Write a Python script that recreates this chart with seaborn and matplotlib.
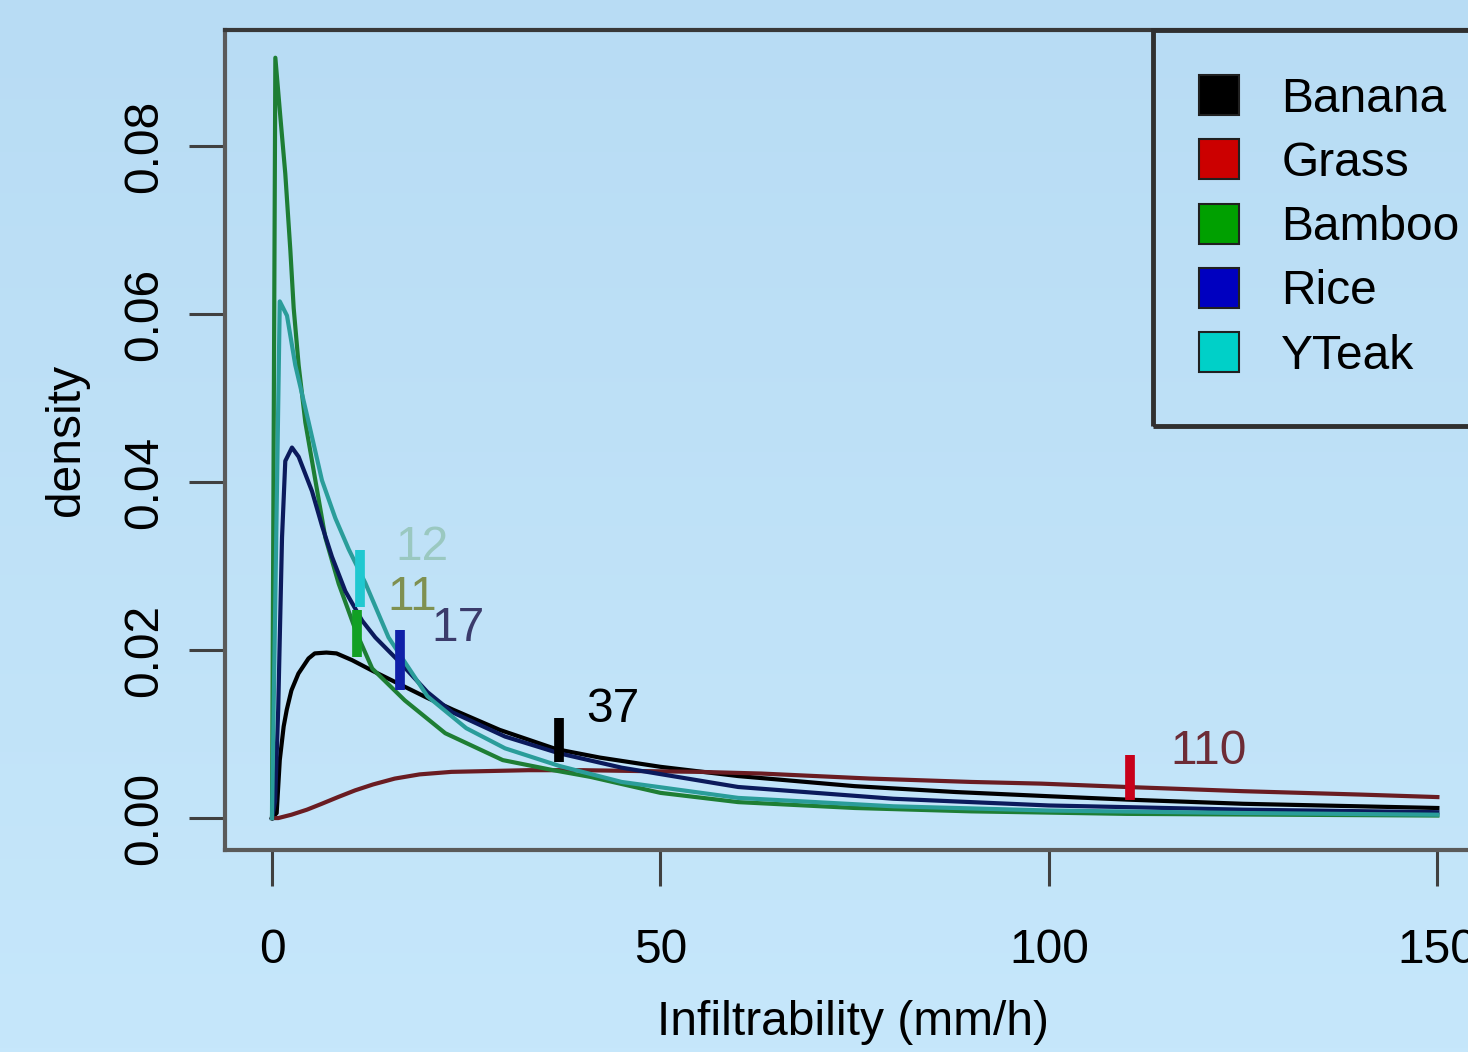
import numpy as np
import pandas as pd
import seaborn as sns
from matplotlib import pyplot as plt
from matplotlib.colors import LinearSegmentedColormap
from matplotlib.lines import Line2D

# fitted densities
crops = ['Banana', 'Grass', 'Bamboo', 'Rice', 'YTeak']

banana_x = [0, 0.6, 1.0, 1.5, 1.9, 2.5, 3.4, 4.7, 5.5, 7.0, 8.3, 10.3, 13.0, 16.5, 20.0, 23.3,
            29.3, 36.6, 42.2, 50, 60, 75, 88, 100, 110, 125, 150]
banana_y = [0, 0.0006, 0.0069, 0.0109, 0.0129, 0.0152, 0.0172, 0.0190, 0.0196, 0.0197, 0.0196,
            0.0188, 0.0175, 0.0159, 0.0143, 0.0129, 0.0105, 0.0082, 0.0072, 0.0061, 0.0050,
            0.0038, 0.0031, 0.0026, 0.0022, 0.0017, 0.0012]

grass_x = [0, 0.8, 2.5, 4.5, 6.4, 8.5, 10.7, 13, 15.8, 19, 23.1, 28, 33, 40, 47, 55, 63, 77,
           90, 99, 110, 125, 140, 150]
grass_y = [0, 0.0, 0.0004, 0.0010, 0.0017, 0.0025, 0.0033, 0.0040, 0.0047, 0.0052, 0.0055,
           0.0056, 0.0057, 0.0057, 0.0056, 0.0055, 0.0053, 0.0047, 0.0043, 0.0041, 0.0037,
           0.0032, 0.0028, 0.0025]

bamboo_x = [0, 0.43, 1.07, 1.71, 2.36, 2.79, 3.43, 4.29, 5.58, 6.86, 8.58, 10.9, 12.9, 17.1,
            22.3, 29.7, 36.2, 41, 50, 60, 75, 90, 110, 130, 150]
bamboo_y = [0, 0.0905, 0.0835, 0.0767, 0.0676, 0.0607, 0.0539, 0.0471, 0.0402, 0.0334, 0.0279,
            0.0220, 0.0178, 0.0140, 0.0101, 0.0069, 0.0057, 0.0049, 0.0030, 0.0019, 0.0012,
            0.0008, 0.0005, 0.0004, 0.0003]

rice_x = [0, 0.4, 0.8, 1.07, 1.29, 1.71, 2.57, 3.43, 5.15, 6.43, 7.72, 9.44, 11.6, 13.3, 16.5,
          20, 23.2, 30, 37, 45, 60, 80, 100, 125, 150]
rice_y = [0, 0.002, 0.013, 0.0243, 0.0334, 0.0425, 0.0441, 0.0430, 0.0389, 0.0348, 0.0311,
          0.0270, 0.0235, 0.0215, 0.0185, 0.0150, 0.0126, 0.0097, 0.0077, 0.0060, 0.0037,
          0.0023, 0.0015, 0.0010, 0.0007]

yteak_x = [0, 1.0, 1.93, 3.0, 4.72, 6.43, 8.15, 9.87, 12, 15, 20, 25, 30, 37, 45, 60, 80, 100,
           125, 150]
yteak_y = [0, 0.0615, 0.0598, 0.0539, 0.0471, 0.0402, 0.0357, 0.0320, 0.0280, 0.0215, 0.0145,
           0.0107, 0.0083, 0.0062, 0.0043, 0.0024, 0.0014, 0.0009, 0.0006, 0.0004]

# mean markers (x, vertical extent) and labels
mean_x = [37, 110.4, 10.9, 16.5, 11.3]
mark_lo = [0.0067, 0.0021, 0.0192, 0.0152, 0.0251]
mark_hi = [0.0119, 0.0075, 0.0248, 0.0224, 0.0319]
mean_labels = ['37', '110', '11', '17', '12']
label_x = [43.9, 120.5, 18.0, 23.9, 19.3]
label_y = [0.0129, 0.0079, 0.0262, 0.0226, 0.0322]

line_colors = ['#000000', '#6a1c22', '#1e7e34', '#0b1a5c', '#2a9d9a']
mark_colors = ['#000000', '#c8001a', '#12a024', '#1020a8', '#20c8d0']
text_colors = ['#000000', '#6d2c36', '#7f9050', '#3b3b6b', '#9ac8c0']
legend_colors = ['#000000', '#cc0000', '#00a000', '#0000c0', '#00d0c8']

xs = [banana_x, grass_x, bamboo_x, rice_x, yteak_x]
ys = [banana_y, grass_y, bamboo_y, rice_y, yteak_y]
df = pd.concat([pd.DataFrame({'x': x, 'density': y, 'crop': c}) for x, y, c in zip(xs, ys, crops)])

fs = 34.5
fig = plt.figure(figsize=(14.68, 10.52), dpi=100)
plt.rcParams['font.family'] = ['Liberation Sans', 'DejaVu Sans']

# light blue gradient background
bg = fig.add_axes([0, 0, 1, 1], zorder=-10)
grad = LinearSegmentedColormap.from_list('bg', ['#b8dcf4', '#c6e7fb'])
bg.imshow(np.linspace(0, 1, 256)[:, None], cmap=grad, aspect='auto', extent=[0, 1, 0, 1])
bg.axis('off')

ax = fig.add_axes([225 / 1468, 202 / 1052, 1259 / 1468, 820 / 1052])
ax.set_facecolor('none')

sns.lineplot(data=df, x='x', y='density', hue='crop', hue_order=crops,
             palette=dict(zip(crops, line_colors)), linewidth=3.0, legend=False,
             sort=False, estimator=None, ax=ax)

ax.vlines(mean_x, mark_lo, mark_hi, colors=mark_colors, linewidth=7, zorder=5)
for lx, ly, t, c in zip(label_x, label_y, mean_labels, text_colors):
    ax.text(lx, ly, t, color=c, fontsize=fs, ha='center', va='center')

ax.set_xlim(-6.05, 156)
ax.set_ylim(-0.0038, 0.0938)
ax.set_xticks([0, 50, 100, 150])
ax.set_xticklabels(['0', '50', '100', '150'])
ax.set_yticks([0, 0.02, 0.04, 0.06, 0.08])
ax.set_yticklabels(['0.00', '0.02', '0.04', '0.06', '0.08'])
ax.tick_params(axis='both', direction='out', length=26, width=2.2, color='#404040', labelsize=fs)
ax.tick_params(axis='x', pad=30)
ax.tick_params(axis='y', pad=16, labelrotation=90)
for lab in ax.get_yticklabels():
    lab.set_va('center')
for name, sp in ax.spines.items():
    sp.set_color('#383838' if name == 'top' else '#5a5a5a')
    sp.set_linewidth(3)

ax.set_xlabel('Infiltrability (mm/h)', fontsize=fs)
ax.set_ylabel('density', fontsize=fs, va='center')
ax.xaxis.set_label_coords(0.4988, -0.183)
ax.yaxis.set_label_coords(-0.126, 0.5)

handles = [Line2D([], [], linestyle='none', marker='s', markersize=29, markerfacecolor=c,
                  markeredgecolor='#202020', markeredgewidth=1.5) for c in legend_colors]
leg = ax.legend(handles, crops, loc='upper left', bbox_to_anchor=(0.737, 1.0), borderaxespad=0,
                fontsize=fs, frameon=True, fancybox=False, facecolor='none', framealpha=1,
                edgecolor='#303030', borderpad=0.98, handlelength=0.8, handletextpad=0.9,
                labelspacing=0.4)
leg.get_frame().set_linewidth(3.5)

fig.savefig('out.png', dpi=100)
